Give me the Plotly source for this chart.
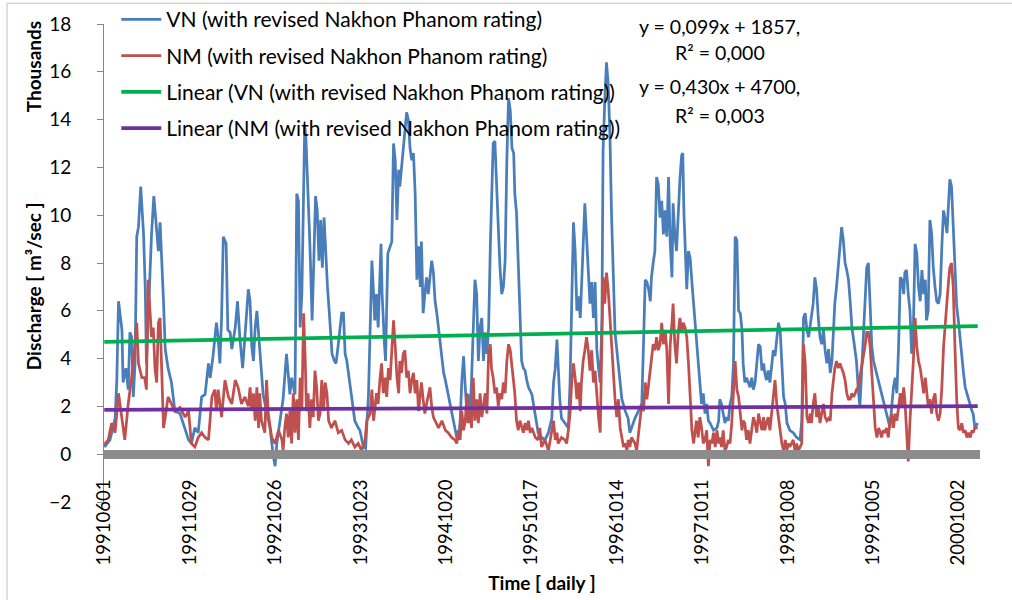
import plotly.graph_objects as go

# Daily discharge (thousands of m3/s), sampled along the record; x = day number in the record
vn_idx = [1, 11, 20, 23, 26, 32, 34, 39, 43, 46, 49, 52, 55, 58, 61, 65, 70, 73, 75, 78, 81, 84, 88, 93, 96, 99, 102, 105, 108, 113, 119, 125, 134, 143, 149, 154, 160, 166, 172, 178, 184, 187, 192, 198, 201, 204, 207, 210, 215, 218, 222, 225, 231, 235, 239, 244, 248,
          254, 257, 260, 263, 266, 269, 272, 274, 280, 286, 292, 298, 301, 304, 310, 315, 321, 324, 327, 330, 336, 339, 342, 345, 348, 350, 353, 355, 358, 361, 363, 366, 369, 372, 375, 378, 381, 384, 387, 390, 393, 396, 399, 401, 405, 408, 412, 415, 418, 421, 424, 427, 430, 435, 441, 447, 450, 456, 460, 465, 471, 474, 476, 479, 482, 487, 489, 493, 495, 499, 503, 506,
          509, 512, 515, 518, 520, 523, 526, 529, 532, 535, 538, 541, 544, 547, 550, 553, 556, 558, 561, 564, 567, 570, 573, 576, 579, 582, 585, 588, 591, 594, 597, 600, 605, 611, 617, 620, 623, 626, 629, 632, 635, 638, 640, 643, 646, 649, 652, 655, 658, 661, 664, 667, 670, 673, 676, 679, 681, 684, 687, 690, 693, 696, 699, 702, 705, 708, 711, 714, 717, 720, 722, 725, 728, 731, 734, 737, 740, 743, 746, 752, 758, 763,
          769, 775, 781, 787, 790, 793, 796, 798, 801, 804, 810, 816, 819, 822, 825, 828, 831, 834, 837, 839, 842, 845, 848, 851, 854, 857, 860, 863, 866, 869, 872, 875, 877, 880, 883, 886, 889, 892, 895, 898, 901, 904, 907, 910, 916, 921, 924, 927, 933, 939, 945, 948, 951, 954, 957, 960, 962, 965, 968, 971, 974, 977, 980, 983, 986, 989, 992, 995, 998, 1000, 1003, 1006, 1009, 1012, 1015, 1017,
          1019, 1021, 1024, 1027, 1030, 1033, 1036, 1039, 1041, 1044, 1047, 1050, 1053, 1056, 1059, 1062, 1065, 1071, 1077, 1080, 1082, 1085, 1088, 1091, 1094, 1097, 1100, 1103, 1106, 1109, 1112, 1115, 1118, 1121, 1123, 1126, 1129, 1132, 1135, 1138, 1141, 1144, 1147, 1150, 1153, 1156, 1159, 1161, 1164, 1167, 1170, 1173, 1176, 1179, 1182, 1185, 1188, 1191, 1194, 1197, 1200, 1205, 1211, 1217, 1223, 1226, 1229, 1232, 1235, 1238, 1241, 1243, 1246, 1249, 1252, 1255, 1258, 1261, 1264, 1267, 1270,
          1273, 1276, 1279, 1282, 1284, 1287, 1290, 1293, 1296, 1299, 1302, 1305, 1308, 1311, 1314, 1317, 1320, 1322, 1325, 1328, 1331, 1334, 1337, 1340, 1343, 1346, 1349, 1352, 1355, 1358, 1361, 1364, 1366, 1369, 1372, 1375, 1378, 1381, 1384, 1387, 1390, 1393, 1396, 1399, 1402, 1405, 1407, 1410, 1413, 1416, 1419, 1422, 1425, 1428, 1431, 1434, 1437, 1440, 1443, 1445, 1448, 1451, 1454, 1457, 1460, 1463, 1466, 1469, 1472, 1475, 1478, 1481, 1484, 1486, 1489, 1492, 1495, 1498, 1501, 1504, 1507, 1510, 1513, 1516, 1519, 1522, 1525, 1527, 1530, 1535]
vn_val = [0.3, 0.6, 1.5, 3.1, 6.4, 5.2, 3.0, 3.6, 2.7, 5.1, 4.9, 2.4, 3.8, 9.1, 9.5, 11.2, 9.2, 6.9, 3.8, 5.5, 7.7, 9.2, 10.8, 9.4, 8.5, 9.7, 7.6, 6.4, 4.4, 3.6, 3.0, 1.8, 1.7, 1.0, 0.6, 0.45, 1.1, 0.9, 2.4, 2.5, 3.8, 3.2, 4.1, 5.5, 4.9, 3.8, 5.7, 9.1, 8.8, 5.2, 5.1, 4.4, 5.3, 6.4, 4.9, 3.6, 5.0,
          6.9, 6.4, 4.5, 3.9, 5.3, 6.0, 5.1, 4.2, 2.5, 1.8, 1.1, -0.1, -0.5, 0.45, 1.4, 2.3, 4.2, 3.5, 2.5, 3.2, 2.5, 10.9, 10.6, 5.3, 6.7, 9.5, 13.7, 13.3, 10.9, 9.5, 8.1, 5.6, 8.1, 10.8, 10.2, 8.1, 9.8, 7.8, 9.9, 8.1, 7.0, 6.0, 4.6, 4.2, 3.9, 3.8, 4.6, 5.3, 5.9, 5.9, 4.2, 3.9, 3.4, 2.5, 1.4, 1.1, 1.0, 0.3, 0.25, 2.5, 8.1, 6.7, 5.6, 6.7, 5.3, 8.8, 6.7, 4.6, 3.9, 8.4, 8.7, 8.9,
          13.0, 12.3, 9.8, 11.9, 11.2, 12.0, 12.6, 13.7, 14.3, 14.0, 12.8, 12.3, 12.6, 10.9, 7.3, 8.7, 7.0, 8.9, 5.9, 6.7, 7.4, 6.7, 7.3, 8.1, 7.6, 6.4, 5.9, 5.3, 4.6, 4.2, 3.4, 3.1, 2.5, 1.8, 1.1, 0.7, 0.6, 1.4, 3.1, 4.1, 2.8, 1.7, 2.5, 1.4, 3.1, 5.3, 7.3, 6.7, 3.9, 5.3, 5.7, 3.9, 5.1, 4.2, 5.3, 8.7, 10.9, 13.0, 13.1, 10.9, 9.5, 7.8, 6.7, 7.0, 8.1, 12.3, 14.9, 14.4, 12.8, 12.6, 10.9, 10.1, 8.1, 5.3, 3.9, 3.6, 3.5, 3.1, 2.8, 2.5, 1.7, 0.9,
          0.7, 0.6, 0.9, 1.5, 3.0, 3.6, 4.8, 3.5, 2.3, 1.5, 1.3, 1.1, 3.0, 6.3, 9.7, 8.5, 6.0, 6.6, 5.7, 6.9, 9.1, 10.5, 9.1, 7.4, 6.3, 7.2, 5.7, 7.2, 4.4, 3.6, 3.0, 5.7, 12.7, 14.8, 16.4, 15.5, 13.4, 9.9, 7.2, 5.1, 4.4, 3.6, 3.0, 2.3, 1.8, 1.5, 0.9, 1.1, 1.5, 1.8, 2.1, 4.6, 7.3, 7.2, 6.9, 6.4, 7.4, 8.0, 8.5, 11.6, 11.3, 9.9, 10.6, 9.2, 10.2, 9.1, 11.6, 8.8, 7.4, 10.5, 9.2, 8.5, 10.2, 11.5, 12.5, 12.6,
          10.1, 8.7, 6.9, 8.5, 8.2, 7.2, 6.3, 5.2, 4.5, 3.8, 2.7, 2.1, 2.55, 1.7, 2.1, 1.4, 1.3, 1.0, 1.1, 1.4, 2.3, 2.1, 1.7, 1.3, 1.55, 1.4, 2.1, 2.4, 3.8, 9.1, 8.95, 6.0, 5.9, 5.2, 3.8, 3.0, 3.2, 3.0, 2.8, 3.2, 2.7, 3.0, 3.8, 4.6, 4.5, 3.5, 3.8, 3.4, 3.1, 3.5, 3.0, 3.8, 4.35, 4.1, 4.9, 5.5, 5.2, 3.8, 2.4, 2.1, 1.3, 1.0, 0.9, 0.7, 0.6, 1.4, 5.7, 5.9, 5.2, 4.9, 5.5, 5.7, 6.3, 7.4, 6.9, 5.7, 4.9, 4.6, 5.2, 4.35, 3.8,
          4.4, 3.4, 3.9, 5.3, 6.3, 7.0, 7.8, 8.7, 9.5, 8.95, 8.0, 7.7, 7.3, 6.4, 5.3, 4.8, 4.2, 3.9, 2.8, 2.0, 3.4, 5.1, 6.7, 7.8, 8.0, 6.0, 4.5, 3.9, 3.6, 3.4, 3.1, 2.8, 2.55, 2.3, 2.0, 1.7, 1.4, 1.1, 2.0, 2.8, 3.2, 2.55, 4.5, 7.4, 7.3, 6.7, 7.6, 7.7, 6.7, 6.0, 4.2, 5.3, 8.8, 8.4, 7.0, 6.4, 7.7, 6.7, 7.3, 5.6, 6.0, 9.8, 9.25, 7.8, 7.0, 6.4, 6.3, 6.7, 8.7, 10.2, 9.8, 9.25, 10.6, 11.5, 11.2, 9.5, 7.3, 6.2, 5.6, 4.8, 3.9, 3.4, 2.8, 2.55, 2.3, 2.0, 1.8, 1.7, 1.1, 1.3]

nm_idx = [1, 8, 14, 20, 26, 31, 37, 43, 49, 55, 58, 61, 67, 72, 75, 78, 81, 84, 87, 90, 93, 96, 99, 102, 105, 108, 113, 119, 125, 134, 143, 149, 154, 160, 166, 172, 178, 184, 190, 195, 198, 201, 207, 213, 219, 225, 231, 236, 242, 248,
          254, 257, 260, 263, 266, 269, 272, 274, 277, 283, 286, 289, 292, 295, 301, 307, 313, 315, 318, 321, 324, 327, 330, 333, 336, 339, 342, 345, 348, 351, 354, 356, 359, 362, 365, 368, 371, 374, 377, 380, 383, 386, 389, 392, 395, 400, 406, 412, 418, 424, 430, 435, 441, 447, 453, 459, 462, 468, 471, 474, 479, 482, 485, 488, 491, 494, 497, 500, 503, 506,
          509, 512, 515, 518, 520, 523, 526, 529, 532, 535, 538, 541, 544, 547, 550, 553, 556, 558, 561, 564, 567, 570, 573, 576, 579, 582, 588, 594, 600, 605, 611, 617, 620, 623, 626, 629, 632, 635, 638, 640, 643, 646, 649, 652, 655, 658, 661, 664, 667, 670, 673, 676, 679, 681, 684, 687, 690, 693, 696, 699, 702, 705, 708, 711, 714, 717, 720, 722, 725, 728, 731, 734, 737, 740, 743, 746, 749, 752, 758, 763,
          766, 769, 772, 775, 781, 784, 787, 790, 793, 796, 798, 804, 810, 813, 816, 819, 822, 825, 828, 831, 834, 837, 839, 842, 845, 848, 851, 854, 857, 860, 863, 866, 869, 872, 875, 877, 880, 883, 886, 889, 892, 895, 898, 901, 904, 907, 910, 913, 916, 919, 921, 924, 927, 933, 936, 939, 942, 945, 948, 951, 954, 957, 960, 962, 965, 968, 971, 974, 977, 980, 983, 986, 989, 992, 995, 998, 1000, 1003, 1006, 1009, 1012, 1015, 1018,
          1021, 1024, 1027, 1030, 1033, 1036, 1039, 1041, 1044, 1047, 1050, 1053, 1056, 1059, 1062, 1065, 1068, 1071, 1074, 1077, 1080, 1082, 1085, 1088, 1091, 1094, 1097, 1100, 1103, 1106, 1109, 1112, 1115, 1118, 1121, 1123, 1126, 1129, 1132, 1135, 1138, 1141, 1144, 1147, 1150, 1153, 1156, 1159, 1161, 1164, 1167, 1170, 1173, 1176, 1179, 1182, 1185, 1188, 1191, 1194, 1197, 1200, 1202, 1205, 1211, 1214, 1217, 1220, 1223, 1226, 1229, 1232, 1235, 1238, 1241, 1243, 1246, 1249, 1252, 1255, 1258, 1261, 1264, 1267, 1270,
          1273, 1276, 1279, 1282, 1284, 1287, 1290, 1293, 1296, 1299, 1302, 1305, 1308, 1311, 1314, 1317, 1320, 1322, 1325, 1328, 1331, 1334, 1337, 1340, 1343, 1346, 1349, 1352, 1355, 1358, 1361, 1364, 1366, 1369, 1372, 1375, 1378, 1381, 1384, 1387, 1390, 1393, 1396, 1399, 1402, 1405, 1407, 1410, 1413, 1416, 1419, 1422, 1425, 1428, 1431, 1434, 1437, 1440, 1443, 1445, 1448, 1451, 1454, 1457, 1460, 1463, 1466, 1469, 1472, 1475, 1478, 1481, 1484, 1486, 1489, 1492, 1495, 1498, 1501, 1504, 1507, 1510, 1513, 1516, 1519, 1522, 1525, 1527, 1530, 1535]
nm_val = [0.4, 0.6, 1.3, 0.9, 2.55, 1.7, 0.6, 2.1, 3.2, 4.6, 5.5, 3.8, 3.2, 3.2, 2.7, 7.3, 6.0, 4.9, 5.3, 3.6, 3.0, 5.5, 5.7, 3.0, 1.1, 1.55, 2.4, 2.1, 1.8, 1.95, 1.55, 1.8, 0.45, 0.3, 0.7, 0.9, 0.7, 0.6, 2.4, 2.7, 1.8, 2.7, 1.55, 3.1, 2.4, 2.1, 3.1, 2.8, 2.1, 2.4,
          2.0, 2.8, 1.8, 2.55, 1.4, 2.8, 1.1, 2.55, 1.4, 0.9, 3.1, 1.7, 1.1, 0.7, 0.45, 1.0, 0.6, 0.15, 1.1, 1.7, 0.7, 1.8, 0.45, 2.55, 0.9, 2.3, 0.6, 3.2, 1.8, 5.9, 3.9, 1.8, 2.55, 1.1, 2.3, 1.55, 3.5, 2.8, 1.4, 1.7, 3.1, 1.8, 3.0, 2.55, 1.4, 1.1, 1.4, 0.9, 1.0, 0.6, 0.45, 0.6, 0.3, 0.45, 0.15, 0.6, 1.4, 1.7, 2.7, 1.4, 2.55, 2.1, 3.1, 3.8, 2.55, 3.2, 2.4, 3.6, 3.1, 4.6,
          5.6, 4.5, 3.2, 2.55, 3.9, 3.4, 4.2, 4.35, 3.2, 3.5, 2.55, 3.1, 3.4, 2.55, 3.1, 1.8, 2.55, 3.0, 2.3, 1.7, 2.1, 2.55, 2.8, 2.0, 1.55, 1.4, 1.1, 1.4, 1.0, 0.9, 0.7, 0.6, 0.45, 1.0, 0.6, 1.8, 1.0, 1.4, 2.55, 1.3, 1.8, 1.1, 3.2, 1.4, 2.3, 1.3, 2.55, 1.55, 2.1, 2.55, 1.7, 4.2, 4.6, 3.6, 3.2, 2.55, 2.8, 2.0, 2.55, 2.3, 3.0, 2.55, 3.9, 4.6, 4.35, 3.6, 2.8, 2.55, 1.4, 1.0, 1.4, 1.1, 0.9, 1.3, 1.0, 1.4, 0.9, 1.1, 0.7, 0.6,
          1.1, 0.3, 0.45, 0.6, 0.15, 0.6, 0.9, 1.4, 0.6, 0.9, 0.45, 0.7, 0.6, 0.45, 1.0, 1.7, 3.0, 3.8, 3.2, 2.3, 3.0, 1.8, 3.0, 3.9, 4.35, 4.9, 4.35, 3.5, 4.35, 3.0, 3.5, 2.3, 1.55, 0.9, 4.6, 7.4, 6.3, 7.6, 6.9, 5.7, 4.35, 3.0, 2.3, 1.55, 2.3, 1.1, 0.6, 0.3, 0.45, 0.15, 0.6, 0.3, 0.7, 0.45, 0.15, 0.9, 1.55, 2.1, 1.8, 3.0, 2.3, 3.0, 3.6, 4.06, 4.6, 4.35, 4.9, 4.35, 4.6, 5.5, 4.6, 5.2, 4.35, 2.1, 4.6, 5.5, 6.3, 4.6, 3.8, 5.1, 5.7, 5.1, 5.5,
          5.3, 4.9, 3.8, 2.4, 1.0, 0.45, 1.0, 1.4, 0.7, 1.55, 1.1, 0.45, 0.6, 1.0, -0.5, 0.6, 0.45, 0.9, 0.3, 1.0, 0.45, 0.7, 0.3, 1.0, 0.15, 0.3, 0.6, 0.45, 1.3, 2.4, 3.9, 2.7, 2.4, 1.7, 1.0, 1.4, 1.3, 0.6, 1.0, 0.45, 1.0, 1.55, 1.3, 0.9, 1.7, 1.3, 1.0, 1.55, 1.0, 1.3, 1.55, 1.0, 1.7, 2.4, 3.1, 2.1, 1.55, 1.0, 0.45, 0.15, 0.6, 0.15, 0.45, 0.3, 0.6, 0.15, 0.45, 0.15, 0.3, 0.45, 4.6, 3.8, 1.55, 1.3, 1.7, 1.3, 2.1, 2.55, 1.55, 2.0, 1.3, 1.7, 2.1, 1.55, 1.4,
          1.5, 1.4, 2.55, 3.4, 3.6, 3.9, 3.6, 3.8, 3.6, 3.4, 3.1, 2.55, 2.3, 2.3, 2.55, 2.4, 2.55, 2.7, 2.8, 3.2, 3.6, 4.06, 4.5, 5.1, 5.1, 4.5, 3.4, 2.0, 1.1, 0.7, 1.1, 0.9, 0.7, 1.0, 0.9, 1.1, 0.7, 1.4, 1.7, 1.1, 1.7, 1.4, 2.0, 2.55, 2.0, 2.8, 2.3, 1.1, -0.3, 1.4, 2.55, 3.9, 5.7, 4.5, 3.9, 3.6, 3.1, 2.55, 3.2, 2.55, 2.0, 2.3, 1.7, 2.3, 2.55, 1.7, 1.4, 1.7, 2.8, 4.5, 5.6, 6.4, 7.3, 7.8, 8.0, 7.0, 4.5, 2.3, 1.1, 1.0, 1.3, 0.9, 1.0, 0.7, 0.9, 0.7, 1.0, 0.9, 1.1, 1.1]

# Linear trendlines (m3/s, x = day number) as stated on the chart
vn_slope, vn_intercept = 0.430, 4700
nm_slope, nm_intercept = 0.099, 1857
n_days = 1535

# Category labels shown every 150 records
tick_pos = [1, 151, 301, 451, 601, 751, 901, 1051, 1201, 1351, 1501]
tick_labels = ["19910601", "19911029", "19921026", "19931023", "19941020", "19951017",
               "19961014", "19971011", "19981008", "19991005", "20001002"]

FONT = "Lato, Carlito, Calibri, sans-serif"
BLUE, RED, GREEN, PURPLE = "#4a7ebb", "#c0504d", "#00b050", "#7030a0"

trend_x = [1, n_days]
vn_trend = [(vn_intercept + vn_slope * x) / 1000 for x in trend_x]
nm_trend = [(nm_intercept + nm_slope * x) / 1000 for x in trend_x]

fig = go.Figure()
fig.add_trace(go.Scatter(x=vn_idx, y=vn_val, mode="lines", name="VN (with revised Nakhon Phanom rating)",
                         line=dict(color=BLUE, width=2.75), legendgroup="a"))
fig.add_trace(go.Scatter(x=nm_idx, y=nm_val, mode="lines", name="NM (with revised Nakhon Phanom rating)",
                         line=dict(color=RED, width=2.75), legendgroup="b"))
fig.add_trace(go.Scatter(x=trend_x, y=vn_trend, mode="lines", name="Linear (VN (with revised Nakhon Phanom rating))",
                         line=dict(color=GREEN, width=3.75), legendgroup="c"))
fig.add_trace(go.Scatter(x=trend_x, y=nm_trend, mode="lines", name="Linear (NM (with revised Nakhon Phanom rating))",
                         line=dict(color=PURPLE, width=3.75), legendgroup="d"))

fig.update_layout(
    width=1012, height=600, autosize=False,
    margin=dict(l=104, r=32, t=24, b=98, autoexpand=False),
    paper_bgcolor="white", plot_bgcolor="white",
    font=dict(family=FONT, size=19, color="#000000"),
    showlegend=True,
    legend=dict(x=0.014, y=1.052, xanchor="left", yanchor="top", bgcolor="rgba(0,0,0,0)",
                font=dict(size=21), tracegroupgap=6, itemwidth=40, traceorder="grouped"),
    xaxis=dict(range=[0.5, 1539], anchor="free", position=0.1, showline=True, linewidth=9,
               linecolor="#8c8c8c", ticks="", tickmode="array", tickvals=tick_pos, ticktext=tick_labels,
               tickangle=-90, tickfont=dict(size=18.5), showgrid=False, zeroline=False,
               ticklabelstandoff=13,
               title=dict(text="<b>Time [ daily ]</b>", font=dict(size=19), standoff=12)),
    yaxis=dict(range=[-2, 18], dtick=2, tick0=0, showline=True, linewidth=1, linecolor="#868686",
               ticks="outside", ticklen=6, tickcolor="#868686", tickfont=dict(size=19),
               showgrid=False, zeroline=False, ticklabelstandoff=22),
)

# Axis titles on the value side
fig.add_annotation(text="<b>Discharge [ m³/sec ]</b>", textangle=-90, xref="paper", yref="paper",
                   x=-0.081, y=0.4515, showarrow=False, font=dict(size=19), xanchor="center", yanchor="middle")
fig.add_annotation(text="<b>Thousands</b>", textangle=-90, xref="paper", yref="paper",
                   x=-0.081, y=0.9096, showarrow=False, font=dict(size=19), xanchor="center", yanchor="middle")

# Trendline equations
eq_lines = [("y = 0,099x + 1857,", 0.9955), ("R² = 0,000", 0.9410),
            ("y = 0,430x + 4700,", 0.8700), ("R² = 0,003", 0.8092)]
for txt, yp in eq_lines:
    fig.add_annotation(text=txt, xref="paper", yref="paper", x=0.703, y=yp, showarrow=False,
                       font=dict(size=19.5), xanchor="center", yanchor="middle")

# Chart-area outline
fig.add_shape(type="rect", xref="paper", yref="paper", x0=-0.1107, x1=1.2, y0=-0.4, y1=1.0435,
              line=dict(color="#bfbfbf", width=1), fillcolor="rgba(0,0,0,0)", layer="below")

fig.write_html("out.html")
